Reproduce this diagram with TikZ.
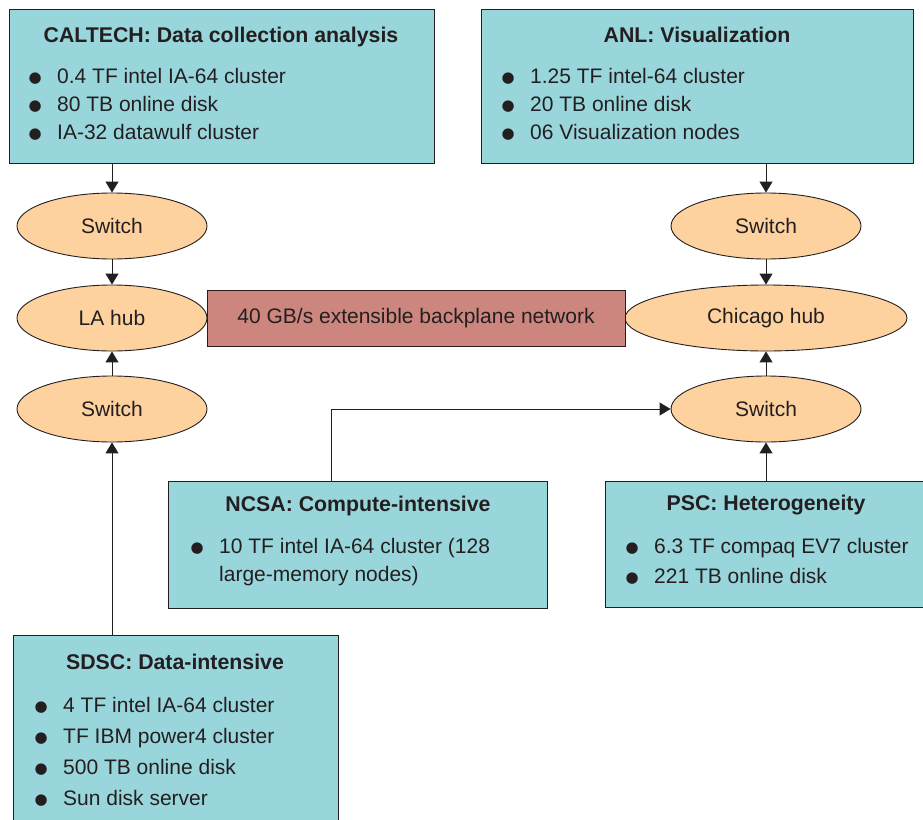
\documentclass[tikz,border=0pt]{standalone}
\usepackage{fontspec}
\setmainfont{Liberation Sans}
\newfontfamily\dotfont{DejaVu Sans}
\usetikzlibrary{arrows.meta,positioning,shapes.geometric,calc}
\definecolor{sitebg}{HTML}{99D6DC}
\definecolor{hubbg}{HTML}{FDD29E}
\definecolor{netbg}{HTML}{CC867E}
\definecolor{ink}{HTML}{231F20}
\newcommand{\bul}{\makebox[0pt]{\raisebox{1pt}{\dotfont\fontsize{15}{15}\selectfont ●}}\hspace{22pt}}

\begin{document}
\begin{tikzpicture}[x=1pt, y=-1pt, every node/.style={font=\fontsize{21}{28}\selectfont, text=ink},
  site/.style={draw=ink, line width=1pt, fill=sitebg, anchor=north west, inner sep=0pt},
  hub/.style={draw=ink, line width=0.9pt, ellipse, fill=hubbg, inner sep=0pt, minimum width=190pt, minimum height=66pt},
  head/.style={font=\fontsize{21.3}{24}\selectfont\bfseries, anchor=base, inner sep=0pt},
  items/.style={anchor=base west, inner sep=0pt},
  arr/.style={-{Triangle[length=11pt,width=13pt]}, line width=1pt, draw=ink}]
\useasboundingbox (0,0) rectangle (923,819);
\clip (0,0) rectangle (923,819);
% sites
\node[site, minimum width=425pt, minimum height=154pt] (caltech) at (9,9) {};
\node[head] (caltechT) at (221,42.7) {CALTECH: Data collection analysis};
\node[items] (caltechL) at (35,83.6) {\begin{tabular}[t]{@{}l@{}}
  \bul 0.4 TF intel IA-64 cluster\\ \bul 80 TB online disk\\ \bul IA-32 datawulf cluster\end{tabular}};
\node[site, minimum width=432pt, minimum height=154pt] (anl) at (481,9) {};
\node[head] (anlT) at (697,42.7) {ANL: Visualization};
\node[items] (anlL) at (508,83.6) {\begin{tabular}[t]{@{}l@{}}
  \bul 1.25 TF intel-64 cluster\\ \bul 20 TB online disk\\ \bul 06 Visualization nodes\end{tabular}};
\node[site, minimum width=379pt, minimum height=127pt] (ncsa) at (168,481) {};
\node[head] (ncsaT) at (358,511.7) {NCSA: Compute-intensive};
\node[items] (ncsaL) at (197,553.6) {\begin{tabular}[t]{@{}l@{}}
  \bul 10 TF intel IA-64 cluster (128\\ \hspace{22pt}large-memory nodes)\end{tabular}};
\node[site, minimum width=330pt, minimum height=126pt] (psc) at (605,481) {};
\node[head] (pscT) at (766,510.7) {PSC: Heterogeneity};
\node[items] (pscL) at (632,553.6) {\fontsize{21}{30}\selectfont\begin{tabular}[t]{@{}l@{}}
  \bul 6.3 TF compaq EV7 cluster\\ \bul 221 TB online disk\end{tabular}};
\node[site, minimum width=325pt, minimum height=200pt] (sdsc) at (13,635) {};
\node[head] (sdscT) at (175,669.7) {SDSC: Data-intensive};
\node[items] (sdscL) at (41,712.6) {\fontsize{21}{31}\selectfont\begin{tabular}[t]{@{}l@{}}
  \bul 4 TF intel IA-64 cluster\\ \bul TF IBM power4 cluster\\ \bul 500 TB online disk\\ \bul Sun disk server\end{tabular}};
% switches and hubs
\node[hub] (laSw1) at (112,226) {Switch};
\node[hub] (laHub) at (112,318) {LA hub};
\node[hub] (laSw2) at (112,409) {Switch};
\node[hub] (chSw1) at (766,226) {Switch};
\node[hub, minimum width=282pt] (chHub) at (766,318) {Chicago hub};
\node[hub] (chSw2) at (766,409) {Switch};
\node[draw=ink, line width=1pt, fill=netbg, minimum width=418pt, minimum height=56pt] (net) at (416,318) {40 GB/s extensible backplane network};
% links
\coordinate (ncsaOut) at (331,481);
\draw[arr] (laSw1 |- caltech.south) -- (laSw1);
\draw[arr] (laSw1) -- (laHub);
\draw[arr] (laSw2) -- (laHub);
\draw[arr] (laSw2 |- sdsc.north) -- (laSw2);
\draw[arr] (chSw1 |- anl.south) -- (chSw1);
\draw[arr] (chSw1) -- (chHub);
\draw[arr] (chSw2) -- (chHub);
\draw[arr] (chSw2 |- psc.north) -- (chSw2);
\draw[arr] (ncsaOut) |- (chSw2.west);
\end{tikzpicture}
\end{document}
